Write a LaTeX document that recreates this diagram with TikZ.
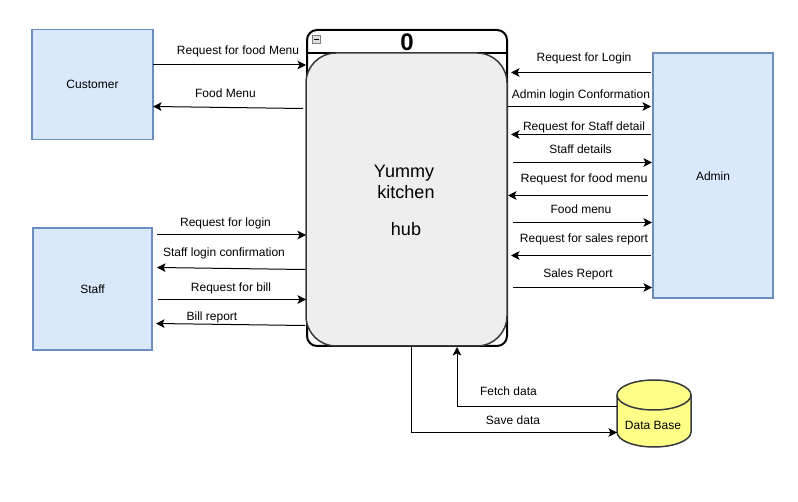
\documentclass[tikz,border=0pt]{standalone}
\usepackage{fontspec}
\setmainfont{Liberation Sans}
\usetikzlibrary{arrows.meta,calc}
\tikzset{
  x=1pt,y=-1pt,
  ent/.style={draw=entline,fill=entfill,line width=1.5pt,rectangle,inner sep=0pt,outer sep=0pt,font=\fontsize{12}{14}\selectfont},
  lab/.style={inner sep=0pt,font=\fontsize{12}{14}\selectfont},
  flow/.style={draw=black,line width=1pt,-{Stealth[length=8.5pt,width=8.5pt,inset=2pt]}},
  dark/.style={draw=hubline,line width=1.5pt},
}
\definecolor{entline}{HTML}{6C8EBF}
\definecolor{entfill}{HTML}{DAE8FC}
\definecolor{hubline}{HTML}{36393D}
\definecolor{hubfill}{HTML}{EEEEEE}
\definecolor{dbfill}{HTML}{FFFF88}
\begin{document}
\begin{tikzpicture}
\useasboundingbox (0,0) rectangle (798,502);
% entities
\node[ent,minimum width=121pt,minimum height=110pt] (customer) at (92.5,84.5) {Customer};
\node[ent,minimum width=119pt,minimum height=122pt] (staff) at (92.5,289) {Staff};
\node[ent,minimum width=120pt,minimum height=245pt] (admin) at (713,175.5) {\raisebox{-1pt}[\height][\depth]{Admin}};
% process
\draw[draw=black,line width=2pt,fill=white,rounded corners=10pt] (307,30) rectangle (507,346);
\draw[black,line width=2pt] (307,53) -- (507,53);
\node[dark,fill=hubfill,rounded corners=30pt,minimum width=201pt,minimum height=293pt,inner sep=0pt,outer sep=0pt] (hub) at (406.5,199.5) {};
\node[inner sep=0pt,align=center,font=\fontsize{18}{21}\selectfont] (hubtext) at (406,200.5) {\hspace*{-4pt}Yummy\\kitchen\\[-5pt] \\hub};
\node[inner sep=0pt,font=\bfseries\fontsize{24}{26}\selectfont] (num) at (407,42) {0};
\node[draw=gray,fill=black!12,line width=.75pt,minimum size=8pt,inner sep=0pt,outer sep=0pt] (collapse) at (316.5,39.5) {};
\draw[black,line width=.75pt] ($(collapse.west)+(1.5,0)$) -- ($(collapse.east)+(-1.5,0)$);
% database
\draw[dark,fill=dbfill] (617,395) arc[start angle=180,end angle=360,x radius=37,y radius=15] -- (691,432) arc[start angle=0,end angle=180,x radius=37,y radius=15] -- cycle;
\draw[dark] (617,395) arc[start angle=180,end angle=0,x radius=37,y radius=15];
\node[lab] (db) at (653,425.5) {Data Base};
% connector ends
\foreach \n/\x/\y in {
  a1/153/65,a2/306/65,b1/303/108.5,b2/153/106.5,
  c1/157/235,c2/306/235,d1/305/269.5,d2/157/267.5,
  e1/158/299.5,e2/306/299.5,f1/305/325.5,f2/156/323.5,
  g1/651/72.5,g2/511/72.5,h1/508/106.5,h2/651/106.5,
  i1/651/134.5,i2/511/134.5,j1/513/162.5,j2/652/162.5,
  k1/648/195.5,k2/508/195.5,l1/513/222.5,l2/652/222.5,
  m1/651/255.5,m2/511/255.5,n1/513/287.5,n2/652/287.5,
  o1/617/406.5,o2/457/347,p1/411/346,p2/617/432.5}
  {\coordinate (\n) at (\x,\y);}
\draw[flow] (a1) -- (a2);
\draw[flow] (b1) -- (b2);
\draw[flow] (c1) -- (c2);
\draw[flow] (d1) -- (d2);
\draw[flow] (e1) -- (e2);
\draw[flow] (f1) -- (f2);
\draw[flow] (g1) -- (g2);
\draw[flow] (h1) -- (h2);
\draw[flow] (i1) -- (i2);
\draw[flow] (j1) -- (j2);
\draw[flow] (k1) -- (k2);
\draw[flow] (l1) -- (l2);
\draw[flow] (m1) -- (m2);
\draw[flow] (n1) -- (n2);
\draw[flow] (o1) -| (o2);
\draw[flow] (p1) |- (p2);
% labels
\node[lab] (la) at (238,51.7) {Request for food Menu};
\node[lab] (lb) at (225.5,93.2) {Food Menu};
\node[lab] (lc) at (225.5,223.2) {Request for login};
\node[lab] (ld) at (224,253.2) {Staff login confirmation};
\node[lab] (le) at (231,288.7) {Request for bill};
\node[lab] (lf) at (212,317) {Bill report};
\node[lab] (lg) at (584,58.7) {Request for Login};
\node[lab] (lh) at (581,95.2) {Admin login Conformation};
\node[lab] (li) at (584,127) {Request for Staff detail};
\node[lab] (lj) at (580.5,149.2) {Staff details};
\node[lab,xscale=1.04] (lk) at (584,179.2) {Request for food menu};
\node[lab] (ll) at (581,209.2) {Food menu};
\node[lab] (lm) at (584,239.2) {Request for sales report};
\node[lab] (ln) at (578,274.2) {Sales Report};
\node[lab] (lo) at (508.5,391.2) {Fetch data};
\node[lab] (lp) at (513,420.2) {Save data};
\end{tikzpicture}
\end{document}
